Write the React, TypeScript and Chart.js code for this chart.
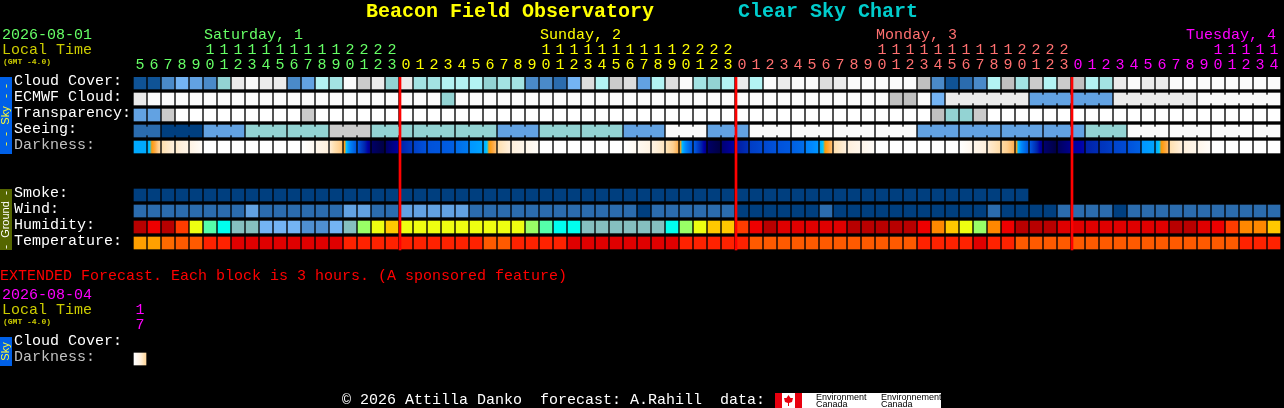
import React, { useEffect, useRef } from "react";
import { Chart, registerables } from "chart.js";

Chart.register(...registerables);

const MONO = '"Liberation Mono", monospace';

const hours = [
  5,6,7,8,9,10,11,12,13,14,15,16,17,18,19,20,21,22,23,
  0,1,2,3,4,5,6,7,8,9,10,11,12,13,14,15,16,17,18,19,20,21,22,23,
  0,1,2,3,4,5,6,7,8,9,10,11,12,13,14,15,16,17,18,19,20,21,22,23,
  0,1,2,3,4,5,6,7,8,9,10,11,12,13,14,
];
const midnightIndexes = [19, 43, 67];
const dayColors = ["#66ff66", "#ffff00", "#ff7070", "#ff00ff"];

const rowLabels = ["Cloud Cover:", "ECMWF Cloud:", "Transparency:", "Seeing:", "Darkness:", "Smoke:", "Wind:", "Humidity:", "Temperature:", "Cloud Cover:", "Darkness:"];
const rowPositions = [0, 1, 2, 3, 4, 7, 8, 9, 10, 16.25, 17.25];
const rowLabelColors = ["#ffffff", "#ffffff", "#ffffff", "#ffffff", "#c0c0c0", "#ffffff", "#ffffff", "#ffffff", "#ffffff", "#ffffff", "#c0c0c0"];

const skyPalette = ["#003f7f", "#0f5396", "#2b6cae", "#4a8ac9", "#62a2e2", "#74b4f4", "#93d3d3", "#a3e3e3", "#b3f3f3", "#c0c0c0", "#cbcbcb", "#dddddd", "#ebebeb", "#fafafa", "#ffffff"];

const cloudCover = [
  1,1,3,5,4,3,6,12,13,12,12,3,4,8,7,13,10,12,6,12,7,
  7,8,8,8,6,7,7,3,3,2,5,11,8,10,11,4,8,11,13,7,6,8,12,8,13,12,13,13,11,12,13,
  13,13,13,13,9,3,1,2,3,8,9,7,10,8,10,9,8,7,12,13,12,12,13,13,13,13,13,13,13,13,
];
const ecmwfCloud = [
  12,13,13,13,13,13,13,13,13,13,13,13,13,13,13,13,13,13,13,13,13,13,6,13,13,13,13,13,13,13,13,13,13,13,13,13,13,13,13,13,13,13,13,13,13,13,13,13,13,13,13,13,
  13,13,9,9,13,5,12,12,12,12,12,12,4,4,4,4,4,4,12,12,12,12,12,12,13,13,13,13,13,13,
];
const ecmwfBlockLengths = [58, 6, 6, 6, 6];
const ecmwfBlockIsJoined = [false, true, true, true, true];
const transparency = [
  4,4,10,14,14,14,14,14,14,14,14,14,10,14,14,14,14,14,14,14,14,14,14,14,14,14,14,14,14,14,14,14,14,14,14,14,14,14,14,14,14,14,14,14,14,14,14,14,14,14,14,14,
  14,14,14,14,14,9,6,6,10,14,14,14,14,14,14,14,14,14,14,14,14,14,14,14,14,14,14,14,14,14,
];
const seeing = [
  2,2,0,0,0,4,4,4,6,6,6,6,6,6,10,10,10,6,6,6,6,6,6,6,6,6,4,4,4,6,6,6,6,6,6,4,4,4,13,13,13,4,4,4,13,13,13,13,13,13,13,13,13,
  13,13,13,4,4,4,4,4,4,4,4,4,4,4,4,6,6,6,13,13,13,13,13,13,13,13,13,13,13,
];
const seeingBlockLengths = [2,3,3,3,3,3,3,3,3,3,3,3,3,3,3,3,3,3,3,3,3,3,3,3,3,3,3,2];
const smoke = Array.from({ length: 64 }).map(() => 0);
const wind = [
  2,2,2,2,2,2,2,2,4,2,2,2,2,2,2,4,4,2,2,4,4,4,4,4,2,2,2,2,2,2,2,2,2,2,2,2,0,2,2,2,2,2,2,
  0,0,0,0,0,0,2,0,0,0,0,0,0,0,0,0,0,0,2,0,0,0,0,2,2,2,2,0,2,2,2,2,2,2,2,2,2,2,2,
];

const humidityPalette = ["#b80000", "#e00000", "#ee0000", "#ff3c00", "#ff8800", "#ffc800", "#eeff11", "#99ff66", "#55ffaa", "#00ffee", "#85c0c0", "#74b4f4", "#4f90d2"];
const humidity = [
  0,2,0,3,6,8,9,10,10,11,11,11,12,12,11,10,7,6,5,6,6,
  6,6,6,6,6,6,6,7,8,9,9,10,10,10,10,10,10,9,7,6,5,5,3,2,0,1,1,1,1,1,0,
  0,0,0,0,2,4,5,6,7,4,2,0,0,0,1,1,1,1,1,1,1,1,0,0,1,2,3,4,4,5,
];
const temperaturePalette = ["#e00000", "#ff2200", "#ff5a00", "#ff6a00", "#ffa000"];
const temperature = [
  4,4,3,2,2,1,1,0,0,0,0,0,0,0,0,1,1,1,1,1,1,
  1,1,1,1,2,2,1,1,1,1,0,0,0,0,0,0,0,0,1,1,1,1,1,2,2,2,2,2,2,2,2,
  2,2,2,2,1,1,1,1,0,1,1,2,2,2,2,2,2,2,2,2,2,2,2,2,2,2,2,1,1,1,
];

const darknessStart = [
  0.5,0.45,-1.5,-1.8,-2.2,-3,-3,-3,-3,-3,-3,-3,-3,-2.4,-1.9,-0.3,2.5,5.5,5.5,4,3.1,
  2.6,2.4,1.8,0.8,0.5,-1.5,-2,-2.4,-3,-3,-3,-3,-3,-3,-3,-2.6,-2.1,-1.6,-0.2,2.3,5.5,5.3,4.2,3.2,2.9,2.6,2.2,1.2,0.5,-1.5,-2,
  -2.4,-3,-3,-3,-3,-3,-3,-3,-2.4,-1.9,-1.3,-0.2,2.4,5.4,5.6,4.7,4,3.5,3,2.6,0.8,0.5,-1.5,-2,-2.4,-3,-3,-3,-3,-3,
];
const darknessEnd = [
  0.5,-1.2,-2,-2.3,-2.8,-3,-3,-3,-3,-3,-3,-3,-2.6,-2,-0.8,2.5,5,6,4.7,3.3,2.6,
  2.5,2.2,1.4,0.6,-0.8,-2,-2.4,-2.8,-3,-3,-3,-3,-3,-3,-2.6,-2.2,-1.7,-0.6,2.5,5,6,4.6,3.6,2.9,2.6,2.4,1.8,0.8,-0.8,-2,-2.4,
  -2.8,-3,-3,-3,-3,-3,-3,-2.5,-2,-1.4,-0.6,2.5,5,6,5,4.4,3.7,3.2,2.8,2.2,0.6,-0.7,-2,-2.4,-2.8,-3,-3,-3,-3,-3,
];
const extendedDarknessStart = [-3];
const extendedDarknessEnd = [-1.2];

const darknessMagnitudes = [-3,-2,-1.5,-1,-0.5,-0.01,0.15,0.5,1,1.5,2,2.5,3,3.5,4,4.5,5,5.5,6];
const darknessColors = ["#ffffff","#fff0dd","#ffe0b0","#ffd090","#ffaa44","#ff9900","#00ccff","#00aaff","#0088ff","#0077ee","#0066e6","#0055dd","#0044cc","#0033bb","#0022aa","#0000aa","#000088","#000066","#000044"];

function toRgb(h: string) {
  return [parseInt(h.slice(1, 3), 16), parseInt(h.slice(3, 5), 16), parseInt(h.slice(5, 7), 16)];
}
function darknessColor(m: number) {
  const k = darknessMagnitudes.findIndex((v) => v >= m);
  if (k <= 0) return darknessColors[0];
  const t = (m - darknessMagnitudes[k - 1]) / (darknessMagnitudes[k] - darknessMagnitudes[k - 1]);
  const a = toRgb(darknessColors[k - 1]);
  const b = toRgb(darknessColors[k]);
  return `rgb(${a.map((v, j) => Math.round(v + (b[j] - v) * t)).join(",")})`;
}

const TITLE = "Beacon Field Observatory";
const TITLE2 = "Clear Sky Chart";
const dayHeaders = [
  { text: "Saturday, 1", x: 204, color: dayColors[0] },
  { text: "Sunday, 2", x: 540, color: dayColors[1] },
  { text: "Monday, 3", x: 876, color: dayColors[2] },
  { text: "Tuesday, 4", x: 1186, color: dayColors[3] },
];
const extendedNote = "EXTENDED Forecast. Each block is 3 hours. (A sponsored feature)";
const credit = "\u00a9 2026 Attilla Danko  forecast: A.Rahill  data:";

function dayOf(i: number) {
  let d = 0;
  midnightIndexes.forEach((m) => {
    if (i >= m) d++;
  });
  return d;
}

function rowDataset(row: number, levels: number[], palette: string[]) {
  return {
    type: "bar",
    xAxisID: "x",
    yAxisID: "y",
    data: levels.map(() => [row, row + 0.75]),
    backgroundColor: levels.map((l) => palette[l]),
    barThickness: 12,
    grouped: false,
    borderWidth: 0,
    borderSkipped: false,
  };
}

function gradientDataset(row: number, start: number[], end: number[]) {
  return {
    type: "bar",
    xAxisID: "x",
    yAxisID: "y",
    data: start.map(() => [row, row + 0.75]),
    backgroundColor: (c: any) => {
      const chart = c.chart;
      if (!chart.scales.x || c.dataIndex === undefined) return "#000";
      const cx = chart.scales.x.getPixelForValue(c.dataIndex);
      if (!Number.isFinite(cx)) return "#000";
      const g = chart.ctx.createLinearGradient(cx - 6, 0, cx + 6, 0);
      const s = start[c.dataIndex];
      const e = end[c.dataIndex];
      for (let k = 0; k <= 12; k++) g.addColorStop(k / 12, darknessColor(s + ((e - s) * k) / 12));
      return g;
    },
    barThickness: 12,
    grouped: false,
    borderWidth: 0,
    borderSkipped: false,
  };
}

function bridgeDataset(row: number, levels: number[], palette: string[], lengths: number[], joined?: boolean[]) {
  const data: any[] = [];
  const colors: string[] = [];
  let start = 0;
  lengths.forEach((len, b) => {
    if (!joined || joined[b]) {
      for (let i = start; i < start + len - 1; i++) {
        data.push({ x: i + 0.5, y: [row + 0.125, row + 0.625] });
        colors.push(palette[levels[i]]);
      }
    }
    start += len;
  });
  return {
    type: "bar",
    xAxisID: "xFine",
    yAxisID: "y",
    data,
    backgroundColor: colors,
    barThickness: 2,
    grouped: false,
    borderWidth: 0,
    borderSkipped: false,
  };
}

const chromePlugin = {
  id: "chrome",
  beforeDraw(chart: any) {
    const { ctx } = chart;
    ctx.save();
    ctx.fillStyle = "#000000";
    ctx.fillRect(0, 0, chart.width, chart.height);
    ctx.restore();
  },
  afterDraw(chart: any) {
    const { ctx } = chart;
    ctx.save();
    ctx.textBaseline = "middle";
    ctx.textAlign = "left";
    const text = (s: string, x: number, y: number, color: string, font: string) => {
      ctx.fillStyle = color;
      ctx.font = font;
      ctx.fillText(s, x, y);
    };
    const f15 = `15px ${MONO}`;
    text(TITLE, 366, 12, "#ffff00", `bold 20px ${MONO}`);
    text(TITLE2, 738, 12, "#00cccc", `bold 20px ${MONO}`);
    text("2026-08-01", 2, 35, dayColors[0], f15);
    text("Local Time", 2, 50, "#cccc00", f15);
    text("(GMT -4.0)", 3, 62, "#cccc00", `bold 8px ${MONO}`);
    dayHeaders.forEach((d) => text(d.text, d.x, 35, d.color, f15));
    text(extendedNote, 0, 276, "#ff0000", f15);
    text("2026-08-04", 2, 295, "#ff00ff", f15);
    text("Local Time", 2, 310, "#cccc00", f15);
    text("(GMT -4.0)", 3, 322, "#cccc00", `bold 8px ${MONO}`);
    ctx.textAlign = "center";
    text("1", 140, 310, "#ff00ff", f15);
    text("7", 140, 325, "#ff00ff", f15);
    ctx.textAlign = "left";
    text(credit, 342, 400, "#ffffff", f15);

    const band = (y0: number, y1: number, bg: string, fg: string, label: string, dashes: number[]) => {
      ctx.fillStyle = bg;
      ctx.fillRect(0, y0, 12, y1 - y0);
      const put = (s: string, y: number, font: string) => {
        ctx.save();
        ctx.translate(6, y);
        ctx.rotate(-Math.PI / 2);
        ctx.textAlign = "center";
        ctx.textBaseline = "middle";
        ctx.fillStyle = fg;
        ctx.font = font;
        ctx.fillText(s, 0, 0);
        ctx.restore();
      };
      put(label, (y0 + y1) / 2, '11px "Liberation Sans", sans-serif');
      dashes.forEach((y) => put("-", y, `11px ${MONO}`));
    };
    band(77, 154, "#0060e8", "#ffff33", "Sky", [86, 96, 134, 144]);
    band(189, 250, "#556600", "#ffffff", "Ground", [193, 247]);
    band(337, 366, "#0060e8", "#ffff33", "Sky", []);

    // logo strip
    ctx.fillStyle = "#ffffff";
    ctx.fillRect(775, 393, 166, 15);
    ctx.fillStyle = "#e8000f";
    ctx.fillRect(775, 393, 7, 15);
    ctx.fillRect(795, 393, 7, 15);
    ctx.beginPath();
    ctx.moveTo(788.5, 395);
    ctx.lineTo(790.5, 398);
    ctx.lineTo(793, 398);
    ctx.lineTo(792, 402);
    ctx.lineTo(789, 403);
    ctx.lineTo(789, 406);
    ctx.lineTo(788, 406);
    ctx.lineTo(788, 403);
    ctx.lineTo(785, 402);
    ctx.lineTo(784, 398);
    ctx.lineTo(786.5, 398);
    ctx.closePath();
    ctx.fill();
    ctx.save();
    ctx.beginPath();
    ctx.rect(775, 393, 166, 15);
    ctx.clip();
    ctx.fillStyle = "#000000";
    ctx.font = '9px "Liberation Sans", sans-serif';
    ctx.fillText("Environment", 816, 397.5);
    ctx.fillText("Canada", 816, 404.5);
    ctx.fillText("Environnement", 881, 397.5);
    ctx.fillText("Canada", 881, 404.5);
    ctx.restore();
    ctx.restore();
  },
};

export default function App() {
  const ref = useRef<HTMLCanvasElement | null>(null);
  useEffect(() => {
    if (!ref.current) return;
    const chart = new Chart(ref.current, {
      type: "bar",
      plugins: [chromePlugin],
      data: {
        labels: hours.map(String),
        datasets: [
          {
            type: "bar",
            xAxisID: "xFine",
            yAxisID: "y",
            data: midnightIndexes.map((m) => ({ x: m - 0.5 + 1 / 14, y: [0, 10.8125] })),
            backgroundColor: "#ff0000",
            barThickness: 2,
            grouped: false,
            borderWidth: 0,
            borderSkipped: false,
          },
          rowDataset(0, cloudCover, skyPalette),
          rowDataset(1, ecmwfCloud, skyPalette),
          bridgeDataset(1, ecmwfCloud, skyPalette, ecmwfBlockLengths, ecmwfBlockIsJoined),
          rowDataset(2, transparency, skyPalette),
          rowDataset(3, seeing, skyPalette),
          bridgeDataset(3, seeing, skyPalette, seeingBlockLengths),
          gradientDataset(4, darknessStart, darknessEnd),
          rowDataset(7, smoke, skyPalette),
          rowDataset(8, wind, skyPalette),
          rowDataset(9, humidity, humidityPalette),
          rowDataset(10, temperature, temperaturePalette),
          gradientDataset(17.25, extendedDarknessStart, extendedDarknessEnd),
        ] as any,
      },
      options: {
        animation: false,
        responsive: false,
        devicePixelRatio: 1,
        layout: { padding: { left: 14, right: 3, top: 0, bottom: 0 } },
        plugins: { legend: { display: false }, tooltip: { enabled: false }, title: { display: false } },
        scales: {
          x: {
            type: "category",
            position: "top",
            offset: true,
            grid: { display: false, drawTicks: false },
            border: { display: false },
            afterFit: (s: any) => {
              s.height = 77;
              s.paddingLeft = 0;
              s.paddingRight = 0;
              s.paddingTop = 0;
              s.paddingBottom = 0;
            },
            ticks: {
              autoSkip: false,
              maxRotation: 0,
              minRotation: 0,
              padding: 4,
              font: { family: MONO, size: 15, lineHeight: 1 },
              color: (c: any) => dayColors[dayOf(c.index)],
              callback: (_: any, i: number) => {
                const h = hours[i];
                return h >= 10 ? [String(Math.floor(h / 10)), String(h % 10)] : String(h);
              },
            },
          },
          xFine: {
            type: "linear",
            display: false,
            offset: false,
            grid: { offset: false },
            min: -0.5,
            max: hours.length - 0.5,
          },
          y: {
            type: "linear",
            position: "left",
            reverse: true,
            min: 0,
            max: 20.6875,
            grid: { display: false, drawTicks: false },
            border: { display: false },
            afterFit: (s: any) => {
              s.width = 119;
              s.paddingLeft = 0;
              s.paddingRight = 0;
              s.paddingTop = 0;
              s.paddingBottom = 0;
            },
            afterBuildTicks: (s: any) => {
              s.ticks = rowPositions.map((r) => ({ value: r + 0.28 }));
            },
            ticks: {
              autoSkip: false,
              crossAlign: "far",
              padding: 0,
              font: { family: MONO, size: 15 },
              color: (c: any) => rowLabelColors[c.index],
              callback: (_: any, i: number) => rowLabels[i],
            },
          },
        },
      } as any,
    } as any);
    return () => chart.destroy();
  }, []);
  return (
    <>
      <style>{"html,body{margin:0;padding:0;background:#000;overflow:hidden}"}</style>
      <canvas ref={ref} width={1284} height={408} style={{ display: "block", width: 1284, height: 408 }} />
    </>
  );
}
